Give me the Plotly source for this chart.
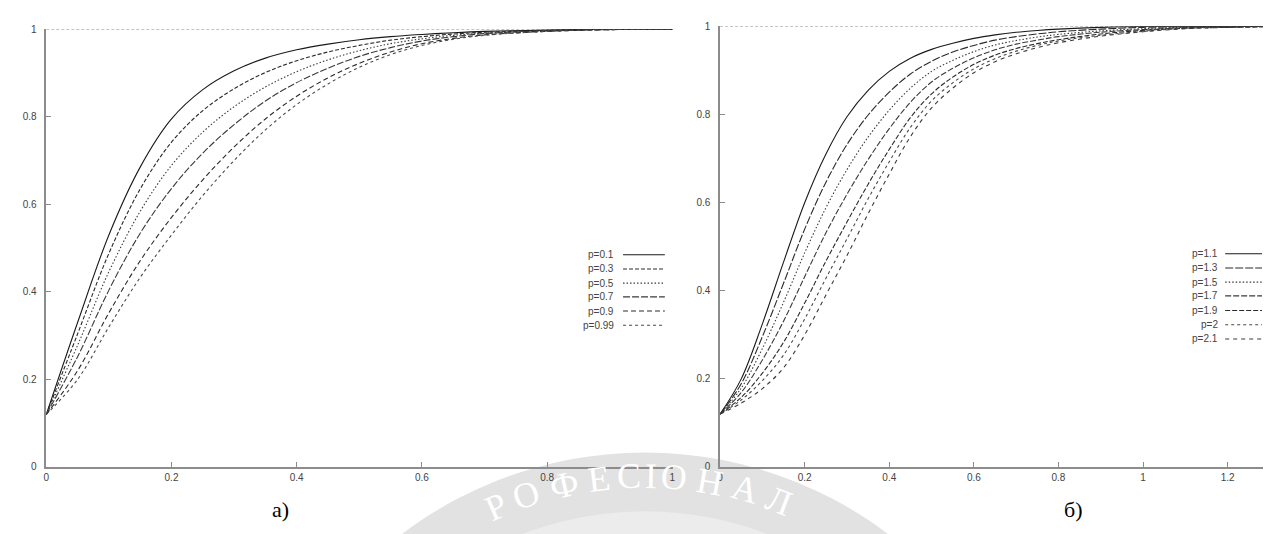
import math
import plotly.graph_objects as go

W, H = 1266, 534

# ---------------- data: panel а) ----------------
x_a = [0, 0.05, 0.1, 0.15, 0.2, 0.25, 0.3, 0.35, 0.4, 0.45, 0.5, 0.55, 0.6, 0.65, 0.7, 0.8, 0.9, 1.0]
labels_a = ["p=0.1", "p=0.3", "p=0.5", "p=0.7", "p=0.9", "p=0.99"]
y_a_01 = [0.12, 0.33, 0.53, 0.685, 0.795, 0.862, 0.905, 0.934, 0.953, 0.966, 0.976, 0.983, 0.988, 0.992, 0.995, 0.998, 1.0, 1.0]
y_a_03 = [0.12, 0.304, 0.488, 0.635, 0.742, 0.814, 0.864, 0.901, 0.928, 0.948, 0.963, 0.975, 0.983, 0.989, 0.993, 0.997, 1.0, 1.0]
y_a_05 = [0.12, 0.278, 0.446, 0.584, 0.689, 0.765, 0.823, 0.868, 0.903, 0.930, 0.951, 0.967, 0.978, 0.986, 0.991, 0.997, 1.0, 1.0]
y_a_07 = [0.12, 0.252, 0.404, 0.534, 0.636, 0.717, 0.782, 0.836, 0.878, 0.911, 0.938, 0.958, 0.973, 0.983, 0.990, 0.996, 0.999, 1.0]
y_a_09 = [0.12, 0.220, 0.352, 0.471, 0.570, 0.656, 0.731, 0.795, 0.847, 0.889, 0.922, 0.948, 0.967, 0.979, 0.987, 0.995, 0.999, 1.0]
y_a_099 = [0.12, 0.20, 0.32, 0.433, 0.53, 0.62, 0.70, 0.77, 0.828, 0.875, 0.913, 0.942, 0.963, 0.977, 0.986, 0.995, 0.999, 1.0]
series_a = [y_a_01, y_a_03, y_a_05, y_a_07, y_a_09, y_a_099]

# ---------------- data: panel б) ----------------
x_b = [0, 0.05, 0.1, 0.15, 0.2, 0.25, 0.3, 0.35, 0.4, 0.45, 0.5, 0.55, 0.6, 0.65, 0.7, 0.75, 0.8, 0.9, 1.0, 1.1, 1.2, 1.3]
labels_b = ["p=1.1", "p=1.3", "p=1.5", "p=1.7", "p=1.9", "p=2", "p=2.1"]
y_b_11 = [0.12, 0.20, 0.325, 0.465, 0.60, 0.71, 0.795, 0.855, 0.898, 0.928, 0.948, 0.962, 0.973, 0.981, 0.987, 0.991, 0.994, 0.998, 1.0, 1.0, 1.0, 1.0]
y_b_13 = [0.12, 0.189, 0.296, 0.417, 0.54, 0.646, 0.732, 0.799, 0.851, 0.892, 0.921, 0.942, 0.957, 0.969, 0.977, 0.983, 0.988, 0.994, 0.998, 0.999, 1.0, 1.0]
y_b_15 = [0.12, 0.179, 0.269, 0.374, 0.486, 0.588, 0.675, 0.749, 0.81, 0.86, 0.898, 0.923, 0.943, 0.958, 0.968, 0.976, 0.982, 0.99, 0.995, 0.998, 0.999, 1.0]
y_b_17 = [0.12, 0.169, 0.243, 0.331, 0.432, 0.531, 0.619, 0.698, 0.768, 0.828, 0.874, 0.905, 0.929, 0.947, 0.96, 0.969, 0.977, 0.987, 0.993, 0.997, 0.999, 1.0]
y_b_19 = [0.12, 0.158, 0.213, 0.283, 0.372, 0.467, 0.556, 0.642, 0.721, 0.793, 0.847, 0.885, 0.914, 0.935, 0.95, 0.961, 0.97, 0.983, 0.991, 0.996, 0.998, 1.0]
y_b_20 = [0.12, 0.152, 0.196, 0.254, 0.336, 0.428, 0.518, 0.609, 0.693, 0.771, 0.831, 0.872, 0.904, 0.927, 0.944, 0.957, 0.967, 0.98, 0.989, 0.996, 0.998, 1.0]
y_b_21 = [0.12, 0.145, 0.178, 0.225, 0.30, 0.39, 0.48, 0.575, 0.665, 0.75, 0.815, 0.86, 0.895, 0.92, 0.938, 0.952, 0.963, 0.978, 0.988, 0.995, 0.998, 1.0]
series_b = [y_b_11, y_b_13, y_b_15, y_b_17, y_b_19, y_b_20, y_b_21]

# asymptote y = 1
bound_x_a = [0, 1]
bound_x_b = [0, 1.3]
bound_y = [1, 1]

ticks_a_x = [0, 0.2, 0.4, 0.6, 0.8, 1]
ticks_b_x = [0, 0.2, 0.4, 0.6, 0.8, 1, 1.2]
ticks_y = [0, 0.2, 0.4, 0.6, 0.8, 1]

# ---------------- styles ----------------
dash_a = ["solid", "4px,2px", "1.5px,2px", "7px,2px", "5px,3px", "3px,3px"]
col_a = ["#1a1a1a", "#2a2a2a", "#3a3a3a", "#3a3a3a", "#2a2a2a", "#4a4a4a"]
dash_b = ["solid", "8px,2px", "1.5px,2px", "6px,2px", "5px,2px", "3px,3px", "4px,4px"]
col_b = ["#1a1a1a", "#2a2a2a", "#3a3a3a", "#3a3a3a", "#2a2a2a", "#4a4a4a", "#3a3a3a"]

fig = go.Figure()

def px(x):
    return x / W

def py(y):
    return 1 - y / H

# watermark (background decoration)
cx, cy, R = 645, 857, 400
shapes = [
    dict(type="circle", xref="paper", yref="paper", layer="below",
         x0=px(cx - R), x1=px(cx + R), y0=py(cy + R), y1=py(cy - R),
         fillcolor="#e2e2e2", line=dict(width=0)),
    dict(type="circle", xref="paper", yref="paper", layer="below",
         x0=px(cx - 340), x1=px(cx + 340), y0=py(cy + 340), y1=py(cy - 340),
         fillcolor="#ececec", line=dict(width=0)),
]
annotations = []
wm_letters = "РОФЕСІОНАЛ"
wm_angles = [-23.5, -18.5, -12.5, -7, -2.5, 1, 4.5, 10, 15.5, 21]
for ch, ang in zip(wm_letters, wm_angles):
    r = 376
    lx = cx + r * math.sin(math.radians(ang))
    ly = cy - r * math.cos(math.radians(ang))
    annotations.append(dict(x=px(lx), y=py(ly), xref="paper", yref="paper",
                            text=ch, showarrow=False, textangle=ang,
                            font=dict(family="Liberation Serif", size=36, color="#ffffff"),
                            xanchor="center", yanchor="middle"))

# y=1 dotted lines
fig.add_trace(go.Scatter(x=bound_x_a, y=bound_y, mode="lines", xaxis="x", yaxis="y",
                         line=dict(color="#b0b0b0", width=1.2, dash="3px,2px"),
                         showlegend=False, hoverinfo="skip"))
fig.add_trace(go.Scatter(x=bound_x_b, y=bound_y, mode="lines", xaxis="x2", yaxis="y2",
                         line=dict(color="#b0b0b0", width=1.2, dash="3px,2px"),
                         showlegend=False, hoverinfo="skip"))

for ys, lab, d, c in zip(series_a, labels_a, dash_a, col_a):
    fig.add_trace(go.Scatter(x=x_a, y=ys, mode="lines", name=lab, xaxis="x", yaxis="y",
                             line=dict(color=c, width=1.1, dash=d, shape="spline", smoothing=1.0),
                             showlegend=False))
for ys, lab, d, c in zip(series_b, labels_b, dash_b, col_b):
    fig.add_trace(go.Scatter(x=x_b, y=ys, mode="lines", name=lab, xaxis="x2", yaxis="y2",
                             line=dict(color=c, width=1.1, dash=d, shape="spline", smoothing=1.0),
                             showlegend=False))

# custom legends (text right-aligned, sample on the right)
leg_font = dict(family="Liberation Sans", size=10, color="#444444")
rows_a = [255, 269.5, 284, 298, 312.5, 327]
for lab, d, c, yy in zip(labels_a, dash_a, col_a, rows_a):
    annotations.append(dict(x=px(616), y=py(yy), xref="paper", yref="paper", text=lab,
                            showarrow=False, xanchor="right", yanchor="middle", font=leg_font))
    shapes.append(dict(type="line", xref="paper", yref="paper", x0=px(623), x1=px(665),
                       y0=py(yy), y1=py(yy), line=dict(color=c, width=1.1, dash=d)))
rows_b = [254, 268.5, 283, 297, 312, 326.5, 341]
for lab, d, c, yy in zip(labels_b, dash_b, col_b, rows_b):
    annotations.append(dict(x=px(1223), y=py(yy), xref="paper", yref="paper", text=lab,
                            showarrow=False, xanchor="right", yanchor="middle", font=leg_font))
    shapes.append(dict(type="line", xref="paper", yref="paper", x0=px(1228), x1=px(1265),
                       y0=py(yy), y1=py(yy), line=dict(color=c, width=1.1, dash=d)))

# panel captions
cap_font = dict(family="Liberation Serif", size=22, color="#000000")
annotations.append(dict(x=px(279), y=py(515), xref="paper", yref="paper", text="а)",
                        showarrow=False, xanchor="center", yanchor="middle", font=cap_font))
annotations.append(dict(x=px(1076), y=py(515), xref="paper", yref="paper", text="б)",
                        showarrow=False, xanchor="center", yanchor="middle", font=cap_font))

tick_font = dict(family="Liberation Sans", size=10, color="#444444")
axis_common = dict(showgrid=False, zeroline=False, showline=True, linecolor="#8c8c8c",
                   linewidth=1.5, ticks="inside", ticklen=5, tickwidth=1, tickcolor="#8c8c8c",
                   tickfont=tick_font, mirror=False, fixedrange=True)

yd0, yd1a, yd1b = py(471.7), py(24.5), py(21.7)
fig.update_layout(
    width=W, height=H, autosize=False,
    margin=dict(l=0, r=0, t=0, b=0),
    paper_bgcolor="white", plot_bgcolor="rgba(0,0,0,0)",
    showlegend=False,
    xaxis=dict(domain=[px(43.5), px(673)], range=[0, 1.0008], anchor="y",
               tickvals=ticks_a_x, ticktext=[("%g" % v) for v in ticks_a_x], **axis_common),
    yaxis=dict(domain=[yd0, yd1a], range=[0, 1.0005], anchor="x",
               tickvals=ticks_y, ticktext=[("%g" % v) for v in ticks_y],
               ticklabelstandoff=6, **axis_common),
    xaxis2=dict(domain=[px(720.5), 1.0], range=[0, (W - 720.5) / 425.0], anchor="y2",
                tickvals=ticks_b_x, ticktext=[("%g" % v) for v in ticks_b_x], **axis_common),
    yaxis2=dict(domain=[yd0, yd1b], range=[0, 1.0005], anchor="x2",
                tickvals=ticks_y, ticktext=[("%g" % v) for v in ticks_y],
                ticklabelstandoff=6, **axis_common),
    shapes=shapes,
    annotations=annotations,
)

fig.write_html("out.html", config={"displayModeBar": False},
               post_script="document.body.style.margin='0';document.body.style.overflow='hidden';")
